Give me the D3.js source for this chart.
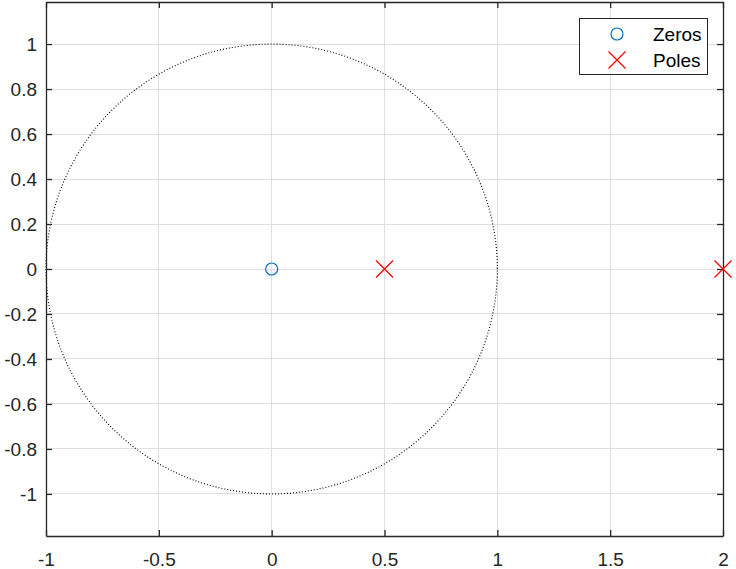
<!DOCTYPE html>
<html><head><meta charset="utf-8">
<script src="https://cdn.jsdelivr.net/npm/d3@7"></script>
<style>body{margin:0;background:#fff}svg{display:block}</style>
</head><body>
<script>
const zerosRe = [0];
const zerosIm = [0];
const polesRe = [0.5, 2];
const polesIm = [0, 0];
const xTicks = [-1, -0.5, 0, 0.5, 1, 1.5, 2];
const yTicks = [-1, -0.8, -0.6, -0.4, -0.2, 0, 0.2, 0.4, 0.6, 0.8, 1];
const legendLabels = ["Zeros", "Poles"];

const W = 736, H = 569;
const L = 46, R = 723, T = 2, B = 536;
const x = d3.scaleLinear().domain([-1, 2]).range([L, R]);
const y = d3.scaleLinear().domain([-1.187, 1.187]).range([B, T]);

const svg = d3.select("body").append("svg").attr("width", W).attr("height", H)
  .style("font-family", "Arial, 'Liberation Sans', sans-serif");

// grid
const g = svg.append("g");
g.selectAll(".gx").data(xTicks).join("line")
  .attr("x1", d => x(d)).attr("x2", d => x(d)).attr("y1", T).attr("y2", B)
  .attr("stroke", "#dfdfdf").attr("stroke-width", 1).attr("shape-rendering", "crispEdges");
g.selectAll(".gy").data(yTicks).join("line")
  .attr("y1", d => y(d)).attr("y2", d => y(d)).attr("x1", L).attr("x2", R)
  .attr("stroke", "#dfdfdf").attr("stroke-width", 1).attr("shape-rendering", "crispEdges");

// unit circle
const theta = d3.range(0, 361, 0.5).map(a => a * Math.PI / 180);
svg.append("path")
  .datum(theta)
  .attr("d", d3.line().x(t => x(Math.cos(t))).y(t => y(Math.sin(t))))
  .attr("fill", "none").attr("stroke", "#000").attr("stroke-width", 1.1)
  .attr("stroke-dasharray", "1,2");

// axes
const fmt = d => String(d);
const ax = svg.append("g").attr("transform", `translate(0,${B})`)
  .call(d3.axisBottom(x).tickValues(xTicks).tickFormat(fmt).tickSizeInner(-6).tickSizeOuter(0).tickPadding(17));
const axT = svg.append("g").attr("transform", `translate(0,${T})`)
  .call(d3.axisTop(x).tickValues(xTicks).tickFormat("").tickSizeInner(-6).tickSizeOuter(0));
const ay = svg.append("g").attr("transform", `translate(${L},0)`)
  .call(d3.axisLeft(y).tickValues(yTicks).tickFormat(fmt).tickSizeInner(-6).tickSizeOuter(0).tickPadding(9));
const ayR = svg.append("g").attr("transform", `translate(${R},0)`)
  .call(d3.axisRight(y).tickValues(yTicks).tickFormat("").tickSizeInner(-6).tickSizeOuter(0));
[ax, axT, ay, ayR].forEach(a => {
  a.select(".domain").attr("stroke", "#262626").attr("stroke-width", 1.3);
  a.selectAll(".tick line").attr("stroke", "#262626").attr("stroke-width", 1.3);
  a.selectAll("text").attr("font-size", 19).attr("fill", "#262626").style("font-family", "Arial, 'Liberation Sans', sans-serif");
});

// zeros
svg.selectAll(".zero").data(zerosRe).join("circle")
  .attr("cx", (d) => x(d)).attr("cy", (d, i) => y(zerosIm[i])).attr("r", 6)
  .attr("fill", "none").attr("stroke", "#0072BD").attr("stroke-width", 1.2);

// poles
const s = 8.5;
const pg = svg.selectAll(".pole").data(polesRe).join("g")
  .attr("transform", (d, i) => `translate(${x(d)},${y(polesIm[i])})`);
pg.append("path").attr("d", `M${-s},${-s}L${s},${s}M${-s},${s}L${s},${-s}`)
  .attr("stroke", "#ff0000").attr("stroke-width", 1.2).attr("fill", "none");

// legend
const lg = svg.append("g");
lg.append("rect").attr("x", 579.5).attr("y", 18.5).attr("width", 128).attr("height", 56)
  .attr("fill", "#fff").attr("stroke", "#262626").attr("stroke-width", 1);
lg.append("circle").attr("cx", 617).attr("cy", 34).attr("r", 6)
  .attr("fill", "none").attr("stroke", "#0072BD").attr("stroke-width", 1.2);
lg.append("path").attr("d", `M${617 - s},${60 - s}L${617 + s},${60 + s}M${617 - s},${60 + s}L${617 + s},${60 - s}`)
  .attr("stroke", "#ff0000").attr("stroke-width", 1.2);
lg.selectAll("text").data(legendLabels).join("text")
  .attr("x", 653).attr("y", (d, i) => 34 + i * 26).attr("dy", "0.35em")
  .attr("font-size", 19).attr("fill", "#000").text(d => d);
</script>
</body></html>
